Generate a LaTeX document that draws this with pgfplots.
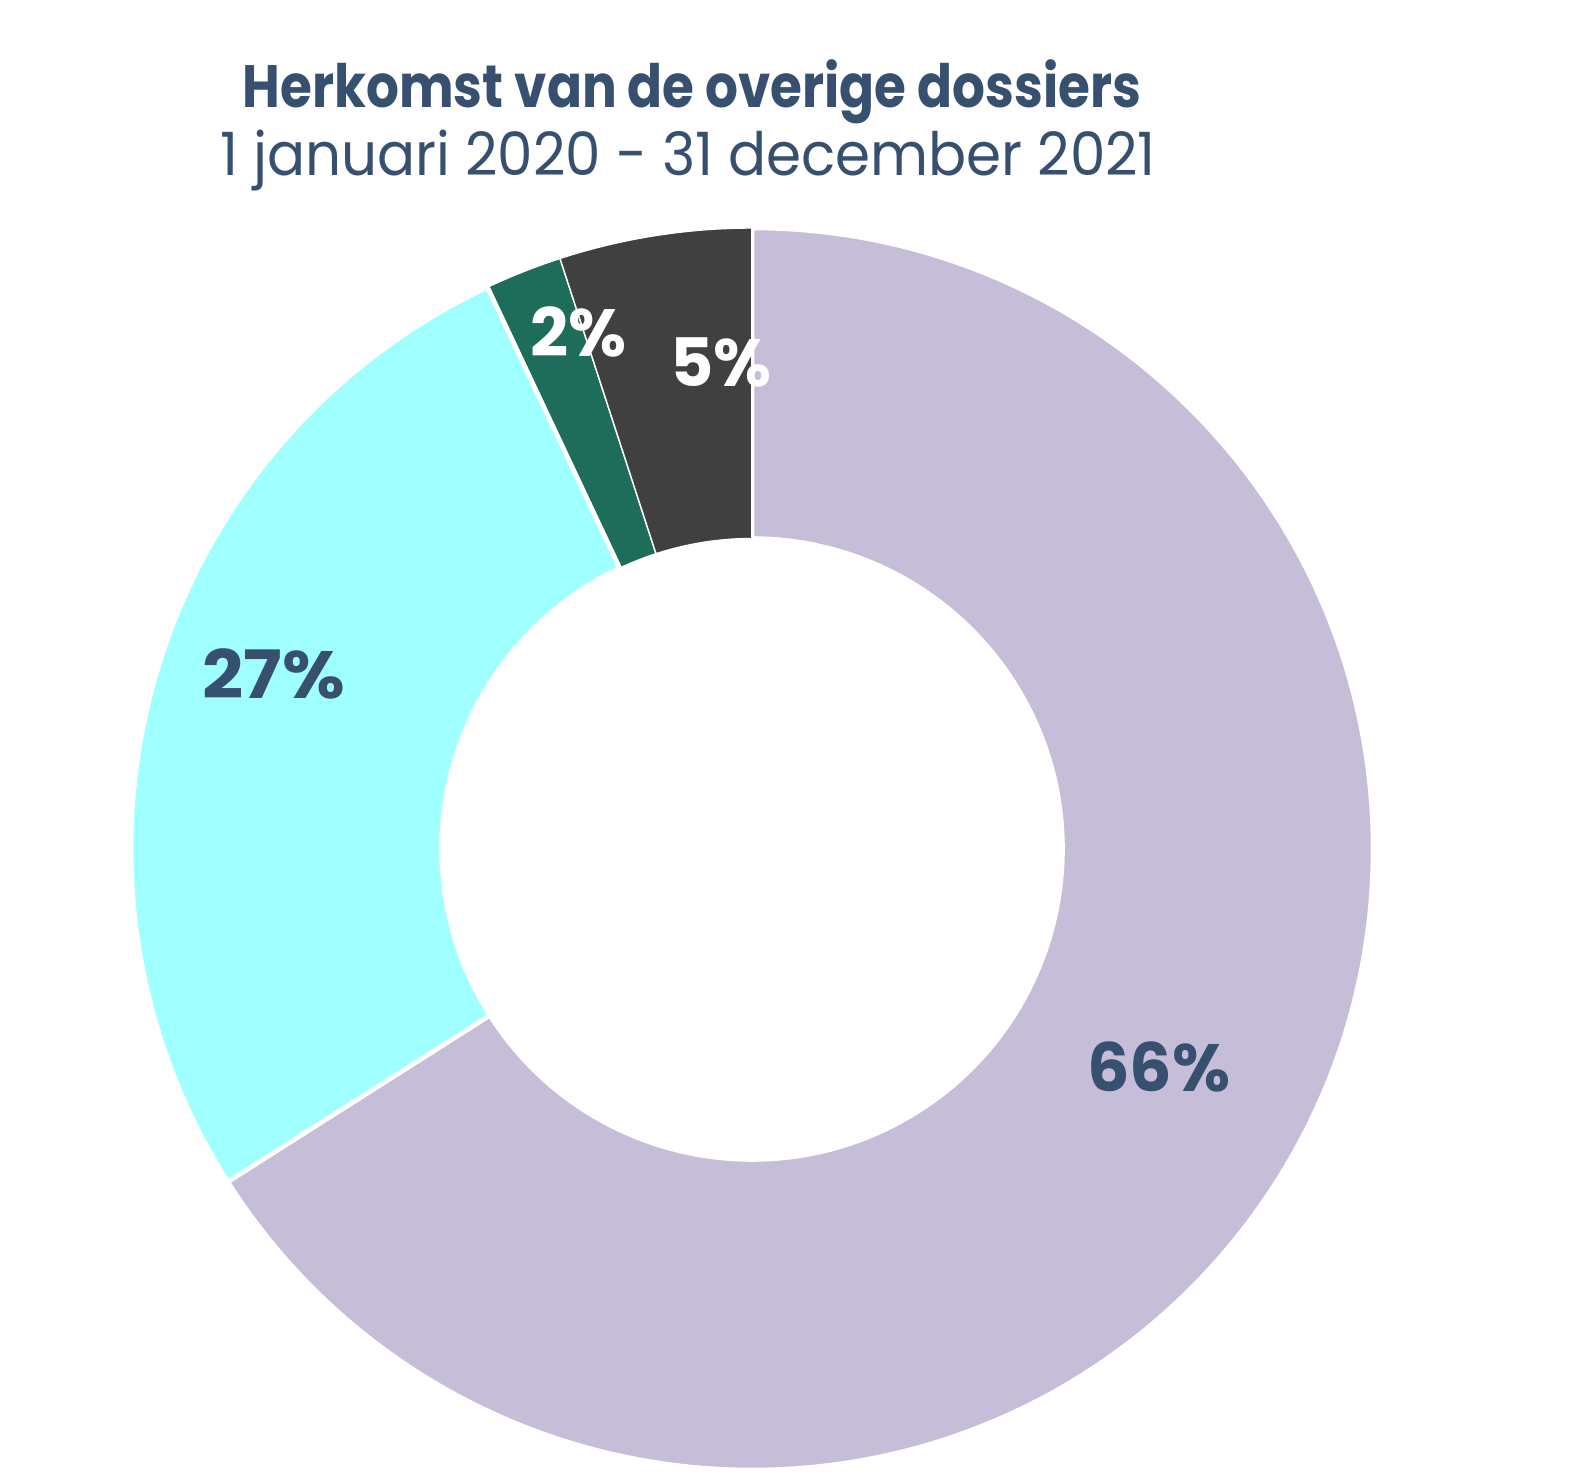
\documentclass[border=0pt]{standalone}
\usepackage{pgfplots}
\usepackage{pgfplotstable}
\pgfplotsset{compat=1.18}
\usepackage{fontspec}
\setmainfont{Poppins}
\definecolor{cpurple}{RGB}{198,189,216}
\definecolor{ccyan}{RGB}{160,255,255}
\definecolor{cgreen}{RGB}{30,108,90}
\definecolor{cdark}{RGB}{64,64,64}
\definecolor{ctitle}{RGB}{56,80,112}
\pgfplotstableread{
label value
Purple 66
Cyan 27
Green 2
Dark 5
}\shares
\begin{document}
\begin{tikzpicture}
\pgfplotstablegetelem{0}{value}\of\shares \pgfmathsetmacro{\va}{\pgfplotsretval}
\pgfplotstablegetelem{1}{value}\of\shares \pgfmathsetmacro{\vb}{\pgfplotsretval}
\pgfplotstablegetelem{2}{value}\of\shares \pgfmathsetmacro{\vc}{\pgfplotsretval}
\pgfplotstablegetelem{3}{value}\of\shares \pgfmathsetmacro{\vd}{\pgfplotsretval}
\pgfmathsetmacro{\tot}{\va+\vb+\vc+\vd}
\pgfmathsetmacro{\aA}{90}
\pgfmathsetmacro{\aB}{\aA-360*(\va/\tot)}
\pgfmathsetmacro{\aC}{\aB-360*(\vb/\tot)}
\pgfmathsetmacro{\aD}{\aC-360*(\vc/\tot)}
\pgfmathsetmacro{\aE}{\aD-360*(\vd/\tot)}
\def\R{6.21cm}
\def\r{3.105cm}
\begin{axis}[
  x=6.21cm, y=6.21cm,
  xmin=-1.2110, xmax=1.3301,
  ymin=-1.0209, ymax=1.3672,
  hide axis, clip=false,
]
\path (axis cs:-1.2110,-1.0209) rectangle (axis cs:1.3301,1.3672);
\fill[cpurple, draw=white, line width=1.3pt] (axis cs:{cos(\aA)},{sin(\aA)}) arc[start angle=\aA, end angle=\aB, radius=\R] -- (axis cs:{0.5*cos(\aB)},{0.5*sin(\aB)}) arc[start angle=\aB, end angle=\aA, radius=\r] -- cycle;
\fill[ccyan, draw=white, line width=1.3pt] (axis cs:{cos(\aB)},{sin(\aB)}) arc[start angle=\aB, end angle=\aC, radius=\R] -- (axis cs:{0.5*cos(\aC)},{0.5*sin(\aC)}) arc[start angle=\aC, end angle=\aB, radius=\r] -- cycle;
\fill[cgreen, draw=white, line width=0.4pt] (axis cs:{cos(\aC)},{sin(\aC)}) arc[start angle=\aC, end angle=\aD, radius=\R] -- (axis cs:{0.5*cos(\aD)},{0.5*sin(\aD)}) arc[start angle=\aD, end angle=\aC, radius=\r] -- cycle;
\fill[cdark, draw=white, line width=0.4pt] (axis cs:{cos(\aD)},{sin(\aD)}) arc[start angle=\aD, end angle=\aE, radius=\R] -- (axis cs:{0.5*cos(\aE)},{0.5*sin(\aE)}) arc[start angle=\aE, end angle=\aD, radius=\r] -- cycle;
\draw[white, line width=1.3pt] (axis cs:{0.5*cos(\aC)},{0.5*sin(\aC)}) -- (axis cs:{cos(\aC)},{sin(\aC)});
\node[text=ctitle, font=\bfseries\fontsize{17}{20}\selectfont] at (axis cs:-0.0966,1.219) {\scalebox{0.864}[1]{Herkomst van de overige dossiers}};
\node[text=ctitle, font=\fontsize{17}{20}\selectfont] at (axis cs:-0.103,1.108) {\scalebox{0.943}[1]{1 januari 2020 - 31 december 2021}};
\node[text=white, font=\bfseries\fontsize{19}{22}\selectfont] at (axis cs:-0.279,0.833) {2\%};
\node[text=white, font=\bfseries\fontsize{19}{22}\selectfont] at (axis cs:-0.050,0.784) {5\%};
\node[text=ctitle, font=\bfseries\fontsize{19}{22}\selectfont] at (axis cs:-0.770,0.282) {\scalebox{1.08}[1]{27\%}};
\node[text=ctitle, font=\bfseries\fontsize{19}{22}\selectfont] at (axis cs:0.655,-0.351) {66\%};
\end{axis}
\end{tikzpicture}
\end{document}
